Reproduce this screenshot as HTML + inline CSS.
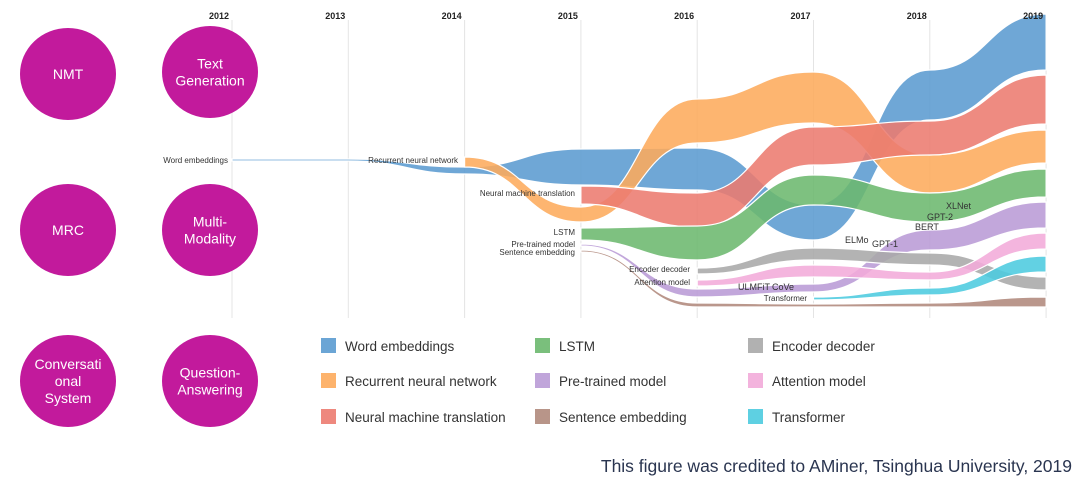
<!DOCTYPE html>
<html><head><meta charset="utf-8"><style>
body{margin:0;background:#fff;width:1080px;height:482px;overflow:hidden;font-family:"Liberation Sans",sans-serif}
svg{position:absolute;left:0;top:0}
</style></head><body>
<svg id="c" width="1080" height="482"></svg>
<script>
const years=[2012,2013,2014,2015,2016,2017,2018,2019];
const names=["Word embeddings","Recurrent neural network","Neural machine translation","LSTM","Pre-trained model","Sentence embedding","Encoder decoder","Attention model","Transformer"];
const colors=["#5b9bd0","#fdab5c","#ec7b70","#6cb86e","#b99bd6","#b0897c","#a9a9a9","#f2abd9","#4ccbdf"];
// values in chart units (upper edge / lower edge) per year, null = absent
const upperWE=[159,159,151,169,170,113,248,304];
const lowerWE=[157,157,144,133,128,78,198,248];
const upperRNN=[null,null,161,111,219,246,163,188];
const lowerRNN=[null,null,151,96,175,195,125,155];
const upperNMT=[null,null,null,132,125,191,197,243];
const lowerNMT=[null,null,null,114,91,153,163,194];
const upperLSTM=[null,null,null,90,92,143,125,149];
const lowerLSTM=[null,null,null,78,58,113,96,121];
const upperPT=[null,null,null,74,29,34,88,116];
const lowerPT=[null,null,null,72,21,26,68,90];
const upperSE=[null,null,null,68,15,14,15,21];
const lowerSE=[null,null,null,66,11,11,11,11];
const upperED=[null,null,null,null,50,70,65,41];
const lowerED=[null,null,null,null,44,58,53,28];
const upperAM=[null,null,null,null,38,53,46,85];
const lowerAM=[null,null,null,null,32,41,38,69];
const upperTF=[null,null,null,null,null,21,30,62];
const lowerTF=[null,null,null,null,null,18,23,46];
const uppers=[upperWE,upperRNN,upperNMT,upperLSTM,upperPT,upperSE,upperED,upperAM,upperTF];
const lowers=[lowerWE,lowerRNN,lowerNMT,lowerLSTM,lowerPT,lowerSE,lowerED,lowerAM,lowerTF];

const NS="http://www.w3.org/2000/svg";
const svg=document.getElementById('c');
const xScale=i=>232+i*116.3;
const yScale=v=>318-v;
function mk(t,a,p){const e=document.createElementNS(NS,t);for(const k in a)e.setAttribute(k,a[k]);(p||svg).appendChild(e);return e;}
function txt(x,y,s,a){const e=mk('text',Object.assign({x:x,y:y},a));e.textContent=s;return e;}

// grid
years.forEach((y,i)=>{
  const l=mk('line',{x1:xScale(i),x2:xScale(i),y1:20,y2:318,stroke:"#e4e4e4","stroke-width":1});
  
  
});

// circles
const circles=[[68,74,["NMT"]],[210,72,["Text","Generation"]],[68,230,["MRC"]],[210,230,["Multi-","Modality"]],[68,381,["Conversati","onal","System"]],[210,381,["Question-","Answering"]]];
circles.forEach(c=>{
  const g=mk('g',{});
  
  
  mk('ellipse',{cx:c[0],cy:c[1],rx:48,ry:46,fill:"#c21a9c"},g);
  const n=c[2].length;
  c[2].forEach((l,i)=>{const t=txt(c[0],c[1]+5+(i-(n-1)/2)*17,l,{fill:"#fff","font-size":"14","text-anchor":"middle"});g.appendChild(t);});
});

function edge(arr,idx){let d="";idx.forEach((i,k)=>{const x=xScale(i),y=yScale(arr[i]);if(k===0)d+=`M${x},${y}`;else{const px=xScale(idx[k-1]),py=yScale(arr[idx[k-1]]),m=(px+x)/2;d+=`C${m},${py} ${m},${y} ${x},${y}`;}});return d;}
for(let s=0;s<names.length;s++){
  const idx=[];uppers[s].forEach((v,i)=>{if(v!==null)idx.push(i);});
  const top=edge(uppers[s],idx);
  const rev=idx.slice().reverse();
  const bot=edge(lowers[s],rev).replace(/^M/,"L");
  const p=mk('path',{d:top+bot+"Z",fill:colors[s],"fill-opacity":0.88,stroke:"#fff","stroke-width":1.2});
  
  
}

// year labels
years.forEach((y,i)=>{
  const t=txt(xScale(i)-3,19,String(y),{"font-size":"9","font-weight":"bold","text-anchor":"end",fill:"#222"});
  
  
});

// stream start labels
const lab=[["Word embeddings",228,163],["Recurrent neural network",458,163],["Neural machine translation",575,196],["LSTM",575,235],["Pre-trained model",575,247],["Sentence embedding",575,255],["Encoder decoder",690,272],["Attention model",690,285],["Transformer",807,301]];
lab.forEach(l=>{const t=txt(l[1],l[2],l[0],{"font-size":"8","text-anchor":"end",fill:"#333"});
  
  });
const models=[["ULMFiT",738,290],["CoVe",772,290],["ELMo",845,243],["GPT-1",872,247],["BERT",915,230],["GPT-2",927,220],["XLNet",946,209]];
models.forEach(m=>{const t=txt(m[1],m[2],m[0],{"font-size":"9",fill:"#333"});
  
  });

// legend
const lx=[321,535,748],ly=[346,381,417];
names.forEach((n,i)=>{
  const col=Math.floor(i/3),row=i%3;
  const g=mk('g',{});
  
  
  mk('rect',{x:lx[col],y:ly[row]-8,width:15,height:15,fill:colors[i],"fill-opacity":0.9},g);
  g.appendChild(txt(lx[col]+24,ly[row]+5,n,{"font-size":"13.5",fill:"#333"}));
});
const cr=txt(1072,472,"This figure was credited to AMiner, Tsinghua University, 2019",{"font-size":"17.5","text-anchor":"end",fill:"#2a3550"});


</script>
</body></html>
